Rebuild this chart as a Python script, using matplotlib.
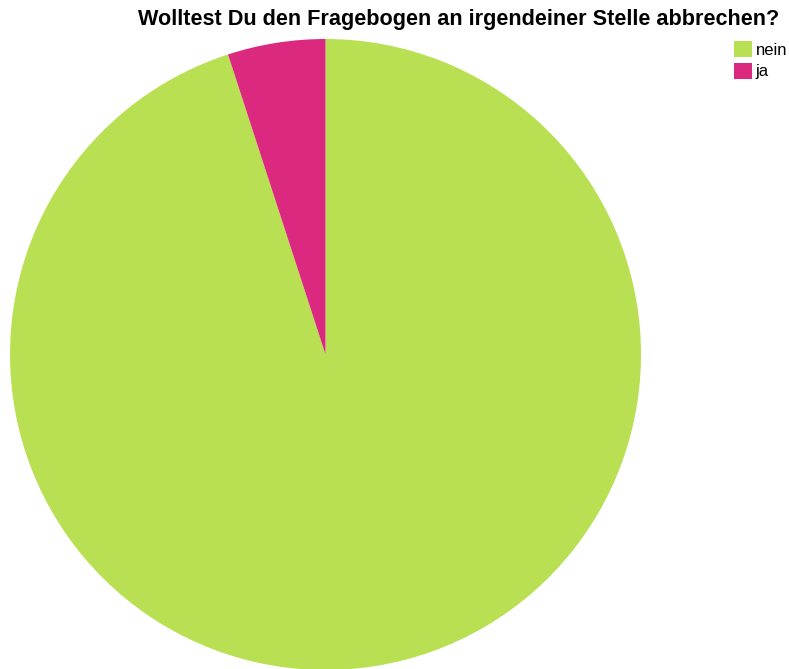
import matplotlib.pyplot as plt

plt.rcParams['font.family'] = ['Liberation Sans', 'DejaVu Sans']

labels = ["nein", "ja"]
values = [95, 5]
colors = ["#b8e052", "#dc2980"]

fig = plt.figure(figsize=(7.89, 6.69), dpi=100)
ax = fig.add_axes([10/789, -1/669, 631/789, 631/669])
wedges, _ = ax.pie(values, colors=colors, startangle=90, counterclock=False,
                   radius=1, wedgeprops=dict(linewidth=0))
ax.set_xlim(-1, 1)
ax.set_ylim(-1, 1)
ax.set_aspect("equal")
ax.axis("off")

fig.text(459/789, 1 - 19/669, "Wolltest Du den Fragebogen an irgendeiner Stelle abbrechen?",
         ha="center", va="center", fontsize=15.6, fontweight="bold")

fig.legend(wedges, labels, loc="upper left", bbox_to_anchor=(734/789, 1 - 41/669),
           frameon=False, fontsize=12, handlelength=1.1, handleheight=1.1,
           handletextpad=0.2, labelspacing=0.3, borderaxespad=0, borderpad=0)

fig.savefig("out.png", dpi=100)
